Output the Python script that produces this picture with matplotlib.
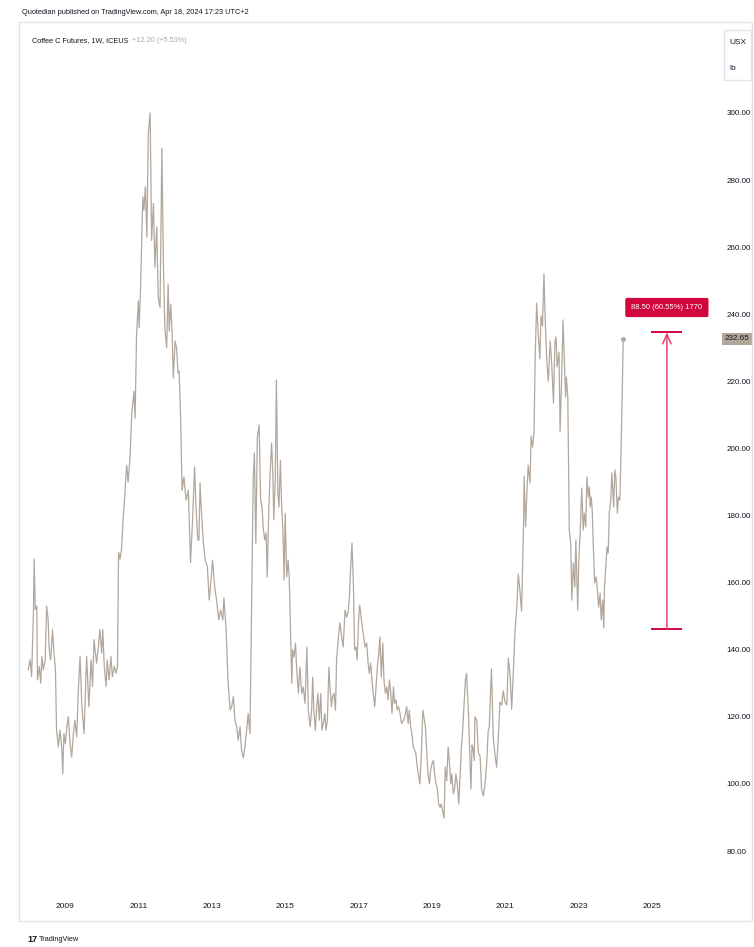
import numpy as np
import matplotlib
matplotlib.use('Agg')
import matplotlib.pyplot as plt
from matplotlib.patches import Rectangle

plt.rcParams['font.family'] = ['Liberation Sans', 'DejaVu Sans']

# weekly-ish closes of Coffee C futures (decimal year, USX/lb)
t_year = [
    2008.00, 2008.05, 2008.09, 2008.14, 2008.16, 2008.19, 2008.23, 2008.25, 2008.30, 2008.34,
    2008.37, 2008.41, 2008.46, 2008.50, 2008.54, 2008.57, 2008.61, 2008.66, 2008.70, 2008.74,
    2008.77, 2008.82, 2008.86, 2008.91, 2008.94, 2008.97, 2009.01, 2009.05, 2009.09, 2009.14,
    2009.18, 2009.23, 2009.27, 2009.32, 2009.36, 2009.41, 2009.46, 2009.52, 2009.59, 2009.65,
    2009.71, 2009.75, 2009.79, 2009.86, 2009.91, 2009.95, 2010.00, 2010.03, 2010.07, 2010.12,
    2010.15, 2010.20, 2010.25, 2010.29, 2010.34, 2010.39, 2010.43, 2010.46, 2010.50, 2010.54,
    2010.59, 2010.63, 2010.68, 2010.72, 2010.77, 2010.82, 2010.88, 2010.91, 2010.95, 2011.00,
    2011.02, 2011.06, 2011.12, 2011.15, 2011.19, 2011.23, 2011.27, 2011.32, 2011.36, 2011.41,
    2011.45, 2011.50, 2011.54, 2011.59, 2011.64, 2011.68, 2011.72, 2011.77, 2011.81, 2011.84,
    2011.88, 2011.92, 2011.95, 2012.00, 2012.04, 2012.08, 2012.11, 2012.15, 2012.19, 2012.24,
    2012.30, 2012.36, 2012.42, 2012.48, 2012.53, 2012.57, 2012.62, 2012.65, 2012.68, 2012.71,
    2012.77, 2012.82, 2012.88, 2012.93, 2012.98, 2013.02, 2013.08, 2013.13, 2013.19, 2013.24,
    2013.30, 2013.33, 2013.39, 2013.44, 2013.50, 2013.54, 2013.59, 2013.63, 2013.68, 2013.72,
    2013.77, 2013.81, 2013.86, 2013.90, 2013.95, 2013.99, 2014.04, 2014.09, 2014.13, 2014.16,
    2014.20, 2014.24, 2014.29, 2014.33, 2014.37, 2014.40, 2014.44, 2014.48, 2014.51, 2014.55,
    2014.59, 2014.63, 2014.66, 2014.69, 2014.73, 2014.76, 2014.80, 2014.83, 2014.87, 2014.90,
    2014.94, 2014.97, 2015.00, 2015.04, 2015.08, 2015.11, 2015.15, 2015.18, 2015.20, 2015.24,
    2015.28, 2015.31, 2015.36, 2015.40, 2015.45, 2015.49, 2015.54, 2015.59, 2015.63, 2015.68,
    2015.72, 2015.75, 2015.78, 2015.82, 2015.86, 2015.89, 2015.93, 2015.97, 2016.00, 2016.04,
    2016.08, 2016.11, 2016.15, 2016.19, 2016.22, 2016.26, 2016.29, 2016.33, 2016.37, 2016.40,
    2016.45, 2016.49, 2016.54, 2016.58, 2016.63, 2016.68, 2016.72, 2016.75, 2016.78, 2016.82,
    2016.86, 2016.89, 2016.93, 2016.96, 2017.00, 2017.03, 2017.07, 2017.10, 2017.15, 2017.18,
    2017.22, 2017.26, 2017.29, 2017.33, 2017.37, 2017.40, 2017.44, 2017.47, 2017.51, 2017.55,
    2017.58, 2017.62, 2017.66, 2017.69, 2017.73, 2017.77, 2017.80, 2017.84, 2017.87, 2017.91,
    2017.95, 2017.98, 2018.02, 2018.05, 2018.09, 2018.13, 2018.17, 2018.22, 2018.26, 2018.31,
    2018.35, 2018.38, 2018.42, 2018.45, 2018.49, 2018.53, 2018.56, 2018.60, 2018.64, 2018.67,
    2018.71, 2018.75, 2018.78, 2018.82, 2018.86, 2018.89, 2018.93, 2018.96, 2019.00, 2019.04,
    2019.07, 2019.11, 2019.14, 2019.18, 2019.22, 2019.25, 2019.29, 2019.33, 2019.36, 2019.40,
    2019.44, 2019.47, 2019.51, 2019.54, 2019.58, 2019.62, 2019.65, 2019.69, 2019.73, 2019.76,
    2019.80, 2019.83, 2019.87, 2019.91, 2019.94, 2019.99, 2020.04, 2020.06, 2020.09, 2020.12,
    2020.15, 2020.17, 2020.22, 2020.26, 2020.31, 2020.35, 2020.40, 2020.44, 2020.49, 2020.53,
    2020.56, 2020.62, 2020.67, 2020.72, 2020.76, 2020.81, 2020.85, 2020.90, 2020.94, 2020.99,
    2021.04, 2021.08, 2021.13, 2021.17, 2021.22, 2021.26, 2021.31, 2021.35, 2021.40, 2021.44,
    2021.49, 2021.51, 2021.55, 2021.58, 2021.62, 2021.67, 2021.70, 2021.74, 2021.78, 2021.81,
    2021.85, 2021.90, 2021.94, 2021.97, 2022.01, 2022.05, 2022.09, 2022.13, 2022.17, 2022.22,
    2022.26, 2022.31, 2022.35, 2022.38, 2022.41, 2022.46, 2022.49, 2022.53, 2022.57, 2022.60,
    2022.64, 2022.66, 2022.70, 2022.74, 2022.78, 2022.81, 2022.85, 2022.89, 2022.92, 2022.97,
    2023.00, 2023.04, 2023.08, 2023.12, 2023.15, 2023.19, 2023.22, 2023.26, 2023.29, 2023.31,
    2023.34, 2023.37, 2023.39, 2023.43, 2023.47, 2023.50, 2023.54, 2023.58, 2023.61, 2023.65,
    2023.68, 2023.70, 2023.74, 2023.77, 2023.80, 2023.83, 2023.87, 2023.90, 2023.92, 2023.95,
    2023.98, 2024.01, 2024.05, 2024.08, 2024.12, 2024.15, 2024.18, 2024.21,
]
price = [
    134, 137, 132, 151, 167, 152, 153, 131, 135, 130,
    138, 134, 137, 153, 149, 140, 137, 146, 139, 134,
    116, 111, 116, 111, 103, 115, 112, 117, 120, 112,
    108, 115, 119, 114, 127, 138, 123, 115, 138, 123,
    137, 129, 143, 136, 141, 146, 139, 146, 135, 129,
    137, 131, 138, 132, 135, 133, 135, 169, 167, 170,
    180, 186, 195, 190, 197, 210.5, 217, 209, 234, 244,
    236, 248, 275, 271, 278, 263, 294, 300, 262, 273,
    254, 266, 245, 242, 289.5, 256, 236, 230, 249, 235,
    243, 234, 221, 232, 230, 222.5, 223, 209, 187.5, 191.5,
    184.6, 187.5, 166, 179.5, 194.5, 182.5, 172.7, 172.7, 189.7, 182.5,
    171.8, 166.7, 164.7, 154.8, 160.8, 166.7, 158.7, 154.8, 148.9, 151.8,
    148.9, 155.4, 146, 131, 122, 123, 126, 119, 117, 113,
    117, 110, 107.7, 111, 116, 121, 115, 157, 191.5, 198.6,
    171.7, 203.4, 207, 184.6, 182.5, 176.6, 172.7, 174.8, 161.7, 180.7,
    192.7, 201.6, 193.6, 178.7, 191.5, 220.4, 186.7, 182.5, 196.5, 183.7,
    174.8, 160.8, 180.7, 161.7, 166.7, 161.7, 143.8, 130, 140, 137.8,
    142, 134.8, 127, 134.8, 127, 128.9, 124, 140.8, 122, 117,
    122, 131.8, 122, 116, 123, 127, 119, 127, 116, 118,
    121, 116, 119, 134.8, 128.9, 123, 126, 127, 122, 137,
    143.8, 148, 143.8, 140.8, 151.8, 149.7, 151.8, 155.7, 163.8, 171.8,
    158.7, 140, 140.8, 137, 148.9, 153.3, 149.7, 146.8, 142.9, 140.8,
    142, 136, 133, 136, 130, 127, 123, 128, 134.8, 139,
    143.8, 131.8, 142, 131, 127, 128.9, 125, 131, 128, 121,
    128.9, 124, 125, 122, 123, 121, 118, 119, 120, 123,
    118, 122, 117, 115, 111, 110, 109, 105, 102, 100,
    109, 122, 120, 117, 109, 103, 100, 104, 106, 107,
    103, 100, 99, 94, 93, 94, 92, 89.8, 105, 101,
    111, 107, 100, 103, 97, 99, 103, 100, 94, 101,
    111, 115, 123, 131, 133, 122, 105, 98.5, 111.6, 110.4,
    107, 120, 119, 109.4, 108.3, 98.5, 96.4, 99.6, 106, 115.8,
    117, 134.3, 113.6, 108.3, 105, 114.6, 124.4, 123.5, 127.7, 124.4,
    123.5, 137.5, 132.2, 122.3, 134.3, 145.3, 152.7, 162.6, 157, 151.5,
    174.5, 191.8, 176.6, 185.2, 195, 189.7, 203.7, 200.4, 204.9, 226.7,
    243.3, 233, 226.7, 239.5, 236.5, 252, 236.5, 225.5, 220, 232,
    225.5, 213.5, 232, 233.2, 224.3, 228.7, 205, 220.4, 238.3, 228.4,
    215.3, 221.3, 215.3, 175.7, 171.8, 154.8, 165.8, 158.7, 172.7, 151.8,
    166.7, 175.7, 188.2, 175.7, 180.7, 176.6, 191.5, 185.5, 188.5, 182.5,
    185.5, 180.7, 172.7, 159.9, 161.7, 158.7, 152.7, 156.9, 148.9, 154.8,
    146.5, 158.7, 165.8, 170.6, 168.8, 180.7, 184.6, 192.7, 188.5, 182.5,
    193.6, 191.5, 180.7, 185.5, 184.6, 199.5, 214.4, 232.65,
]

y_ticks = [80, 100, 120, 140, 160, 180, 200, 220, 240, 260, 280, 300]
x_ticks = [2009, 2011, 2013, 2015, 2017, 2019, 2021, 2023, 2025]

# price range measurement drawn on the chart
meas_low = 146.15
meas_high = 234.65
meas_x = 2025.40
meas_bars = 1770

line_c = '#b2a79c'
red = '#d1063f'
txt_c = '#131722'

W, H = 754, 947
fig = plt.figure(figsize=(W / 100, H / 100), dpi=100)
fig.patch.set_facecolor('white')

ax = fig.add_axes([20 / W, 57 / H, 700 / W, 865 / H])
ax.plot(t_year, price, color=line_c, lw=0.9)
ax.plot(t_year[-1], price[-1], 'o', ms=2.5, color=line_c)

ax.set_xlim(2007.774, 2026.847)
ax.set_ylim(68.38, 326.2)
for s in ax.spines.values():
    s.set_visible(False)

ax.yaxis.tick_right()
ax.set_yticks(y_ticks)
ax.set_yticklabels([f'{v:.2f}' for v in y_ticks])
ax.set_xticks(x_ticks)
ax.set_xticklabels([str(v) for v in x_ticks])
ax.tick_params(axis='y', length=0, pad=4.5, labelsize=5.8, colors=txt_c)
ax.tick_params(axis='x', length=0, pad=9, labelsize=6, colors=txt_c)

# measurement tool
ax.hlines([meas_low, meas_high], meas_x - 0.42, meas_x + 0.42, color=red, lw=1.4)
ax.annotate('', xy=(meas_x, meas_high), xytext=(meas_x, meas_low),
            arrowprops=dict(arrowstyle='->,head_length=0.7,head_width=0.3',
                            color='#e2456f', lw=1.1, shrinkA=0, shrinkB=0))
diff = meas_high - meas_low
ax.text(meas_x, 242.0, f'{diff:.2f} ({diff / meas_low * 100:.2f}%) {meas_bars}',
        ha='center', va='center', color='white', fontsize=5.5,
        bbox=dict(boxstyle='round,pad=0.8,rounding_size=0.25', fc=red, ec='none'))

# last price tag
ax.text((725 - 20) / 700, price[-1], f'{price[-1]:.2f}', transform=ax.get_yaxis_transform(),
        ha='left', va='center', fontsize=5.8, color=txt_c,
        bbox=dict(boxstyle='square,pad=0.35', fc='#b0a699', ec='none'))

# panel frame and unit box
fig.patches.append(Rectangle((19 / W, 1 - 921 / H), (752 - 19) / W, (921 - 22) / H,
                             transform=fig.transFigure, fill=False, ec='#e0e3eb', lw=1))
fig.patches.append(Rectangle((724 / W, 1 - 80 / H), 27 / W, 50 / H,
                             transform=fig.transFigure, fill=False, ec='#e0e3eb', lw=1))
fig.text(729 / W, 1 - 43 / H, 'USX', fontsize=6, color=txt_c, va='center')
fig.text(729 / W, 1 - 68 / H, 'lb', fontsize=6, color=txt_c, va='center')

# header and legend
fig.text(22 / W, 1 - 12 / H, 'Quotedian published on TradingView.com, Apr 18, 2024 17:23 UTC+2',
         fontsize=5.3, color=txt_c, va='center')
leg = fig.text(32 / W, 1 - 41 / H, 'Coffee C Futures, 1W, ICEUS', fontsize=5.3,
               color=txt_c, va='center')
logo = fig.text(27 / W, 1 - 939 / H, '17', fontsize=6.5, fontweight='bold',
                color=txt_c, va='center')

fig.canvas.draw()
r = fig.canvas.get_renderer()
leg_end = leg.get_window_extent(r).x1
fig.text((leg_end + 4) / W, 1 - 41 / H, '+12.20 (+5.53%)', fontsize=5.3, color=line_c, va='center')
logo_end = logo.get_window_extent(r).x1
fig.text((logo_end + 2) / W, 1 - 939 / H, 'TradingView', fontsize=5.3, color=txt_c, va='center')

fig.savefig('out.png', dpi=100)
